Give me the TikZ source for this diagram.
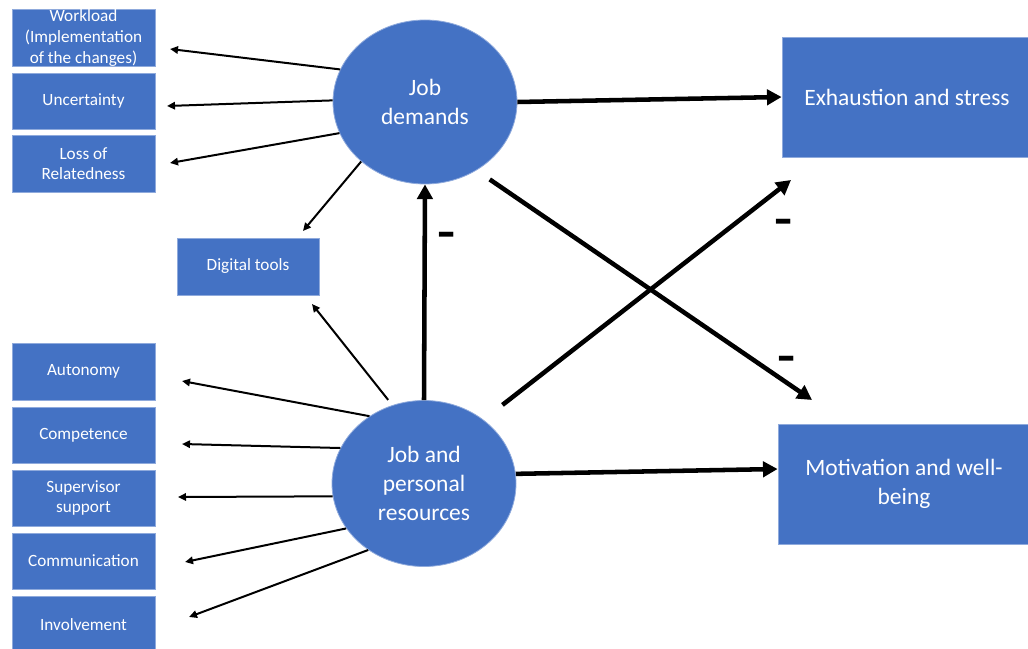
\documentclass[tikz,border=0pt]{standalone}
\usepackage{fontspec}
\setmainfont{Carlito}
\usetikzlibrary{arrows.meta,calc,shapes.geometric}
\definecolor{boxblue}{HTML}{4472C4}
\definecolor{boxline}{HTML}{8FAADC}
\begin{document}
\begin{tikzpicture}[x=0.75pt,y=-0.75pt,
 smallbox/.style={rectangle, fill=boxblue, draw=boxline, line width=0.6pt, text=white, align=center, inner sep=0pt, minimum width=107.25pt, font=\fontsize{12.9pt}{15.4pt}\selectfont},
 bigbox/.style={rectangle, fill=boxblue, draw=boxline, line width=0.6pt, text=white, align=center, inner sep=0pt, font=\fontsize{17.6pt}{21.6pt}\selectfont},
 bigoval/.style={ellipse, fill=boxblue, draw=boxline, line width=0.6pt, text=white, align=center, inner sep=0pt, minimum width=138pt, minimum height=123pt, font=\fontsize{17.6pt}{21.6pt}\selectfont},
 thinarrow/.style={line width=1.5pt, -{Triangle[length=6pt,width=5.5pt]}},
 thickarrow/.style={line width=3.4pt, -{Triangle[length=11pt,width=11.5pt]}},
 minus/.style={font=\bfseries\fontsize{19pt}{19pt}\selectfont, inner sep=0pt}
]
\useasboundingbox (0,0) rectangle (1028,649);

% left boxes
\node[smallbox, minimum height=42.75pt] (wl) at (83.5,38) {Workload\\(Implementation\\of the changes)};
\node[smallbox, minimum height=42pt] (un) at (83.5,101) {\raisebox{-3pt}{Uncertainty}};
\node[smallbox, minimum height=42.75pt] (lr) at (83.5,163.5) {Loss of\\Relatedness};
\node[smallbox, minimum width=106.5pt, minimum height=42.75pt] (dt) at (248,266.5) {\raisebox{-3pt}{Digital tools}};
\node[smallbox, minimum height=42.75pt] (au) at (83.5,371.5) {\raisebox{-3pt}{Autonomy}};
\node[smallbox, minimum height=42pt] (co) at (83.5,435) {\raisebox{-3pt}{Competence}};
\node[smallbox, minimum height=42pt] (su) at (83.5,498) {Supervisor\\support};
\node[smallbox, minimum height=42pt] (cm) at (83.5,561) {\raisebox{-3pt}{Communication}};
\node[smallbox, minimum height=43.5pt] (iv) at (83.5,625) {\raisebox{-3pt}{Involvement}};

% ovals
\node[bigoval] (jd) at (425,102) {Job\\demands};
\node[bigoval, minimum height=124.5pt] (jpr) at (424,483.5) {Job and\\personal\\resources};

% right boxes
\node[bigbox, minimum width=187.5pt, minimum height=90pt] (ex) at (907,97) {Exhaustion and stress};
\node[bigbox, minimum width=189pt, minimum height=90pt] (mw) at (904,484) {Motivation and well-\\being};

% free ends
\coordinate (wlE) at (170,49);
\coordinate (unE) at (167,106);
\coordinate (lrE) at (170,163);
\coordinate (dtE1) at (303,231);
\coordinate (dtE2) at (312,304);
\coordinate (auE) at (182,381);
\coordinate (coE) at (182,444);
\coordinate (suE) at (178,497);
\coordinate (cmE) at (185,562);
\coordinate (ivE) at (189,617);
\coordinate (mwE) at (812,400);
\coordinate (exE) at (791,180);

% thin arrows
\draw[thinarrow] (jd.159) -- (wlE);
\draw[thinarrow] (jd.179) -- (unE);
\draw[thinarrow] (jd.200) -- (lrE);
\draw[thinarrow] (jd.223) -- (dtE1);
\draw[thinarrow, shorten <=5pt] (jpr.112) -- (dtE2);
\draw[thinarrow] (jpr.129) -- (auE);
\draw[thinarrow] (jpr.157) -- (coE);
\draw[thinarrow] (jpr.188) -- (suE);
\draw[thinarrow] (jpr.210) -- (cmE);
\draw[thinarrow] (jpr.230) -- (ivE);

% thick arrows
\draw[thickarrow] (jd.east) -- (ex.west);
\draw[thickarrow] (jpr.6) -- ($(mw.west)+(0,-15)$);
\draw[thickarrow] (jpr.north) -- (jd.south);
\draw[thickarrow, shorten <=12pt] (jd.307) -- (mwE);
\draw[thickarrow, shorten <=18pt] (jpr.47) -- (exE);

% minus signs
\node[minus] (m1) at (447,241) {\scalebox{1.6}[2.2]{–}};
\node[minus] (m2) at (784,228) {\scalebox{1.6}[2.2]{–}};
\node[minus] (m3) at (787,365) {\scalebox{1.6}[2.2]{–}};
\end{tikzpicture}
\end{document}
